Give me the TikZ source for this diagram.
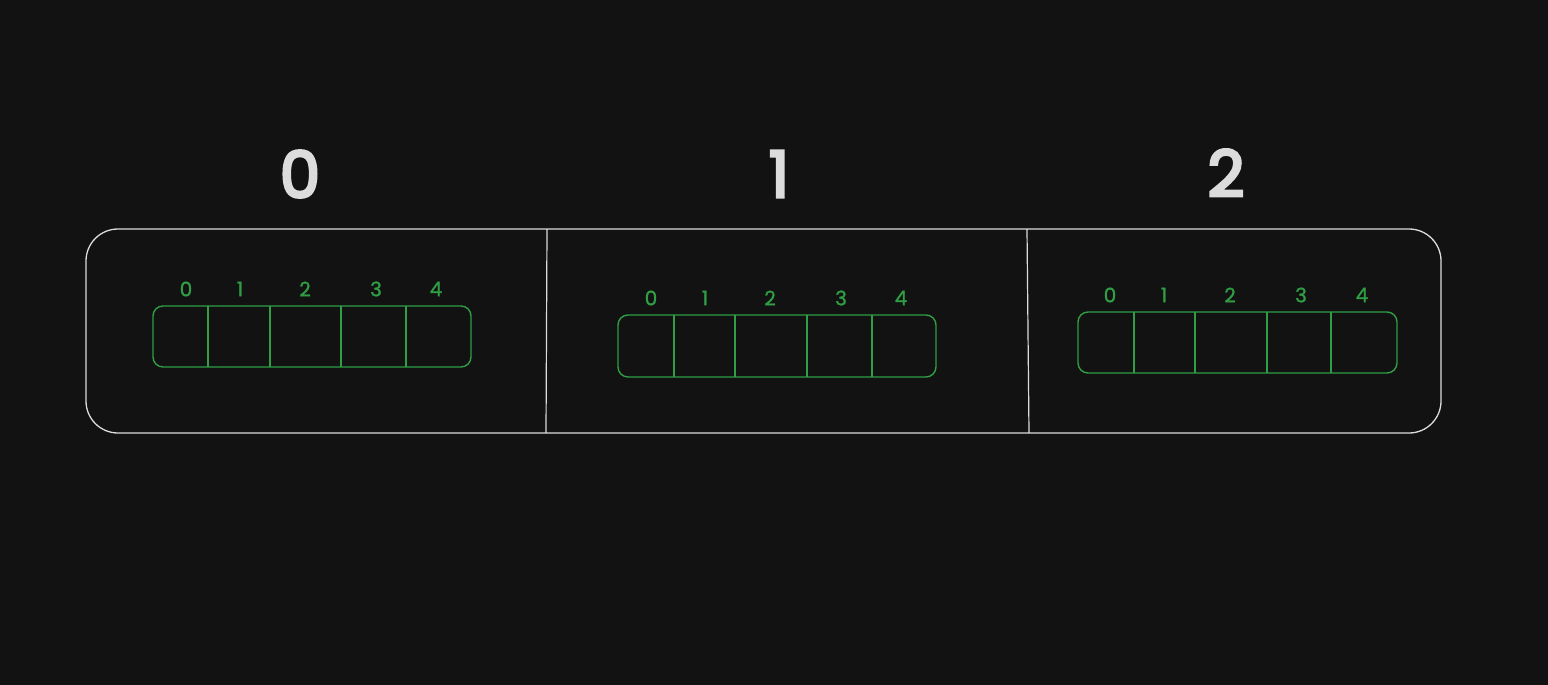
\documentclass[tikz,border=0pt]{standalone}
\usepackage{fontspec}
\setmainfont{Poppins}
\newfontfamily\bigdigits{Poppins}[FakeBold=4.5]
\newfontfamily\smalldigits{Poppins}[FakeBold=1.2]
\definecolor{bg}{HTML}{121212}
\definecolor{fg}{HTML}{DCDCDC}
\definecolor{gr}{HTML}{2F9E44}
\tikzset{
  outerbox/.style={draw=fg, line width=1.3pt, rounded corners=32pt},
  divider/.style={draw=fg, line width=1.2pt},
  arraybox/.style={draw=gr, line width=1.4pt, rounded corners=10pt},
  cell/.style={draw=gr, line width=1.3pt},
  biglabel/.style={text=fg, font=\bigdigits\fontsize{64}{64}\selectfont, inner sep=0pt},
  idxlabel/.style={text=gr, font=\smalldigits\fontsize{20}{20}\selectfont, inner sep=0pt},
}
\begin{document}
\begin{tikzpicture}[x=1pt,y=-1pt]
\useasboundingbox[fill=bg] (0,0) rectangle (1548,685);
% outer container
\draw[outerbox] (86,229) rectangle (1441,433);
\coordinate (d1t) at (547,229); \coordinate (d1b) at (546,433);
\coordinate (d2t) at (1027,229); \coordinate (d2b) at (1029,433);
\draw[divider] (d1t) -- (d1b);
\draw[divider] (d2t) -- (d2b);
% big labels
\node[biglabel] (L0) at (300,174) {0};
\node[biglabel] (L1) at (779,174) {1};
\node[biglabel] (L2) at (1226,173) {2};
% arrays
\foreach \n/\xl/\xr/\yt/\yb/\da/\db/\dc/\dd/\ly/\la/\lb/\lc/\ld/\le in {
  A/153/471/306/367/208/270/341/406/289/186/240/305/376/436,
  B/618/936/315/377/674/735/807/872/298/651/705/770/841/901,
  C/1078/1397/312/373/1134/1195/1267/1331/295/1110/1164/1230/1301/1362}{
  \draw[arraybox] (\xl,\yt) rectangle (\xr,\yb);
  \foreach \d [count=\k] in {\da,\db,\dc,\dd}{
    \coordinate (\n t\k) at (\d,\yt);
    \coordinate (\n b\k) at (\d,\yb);
    \draw[cell] (\n t\k) -- (\n b\k);
  }
  \foreach \x [count=\k from 0] in {\la,\lb,\lc,\ld,\le}{
    \node[idxlabel] (\n l\k) at (\x,\ly) {\k};
  }
}
\end{tikzpicture}
\end{document}
